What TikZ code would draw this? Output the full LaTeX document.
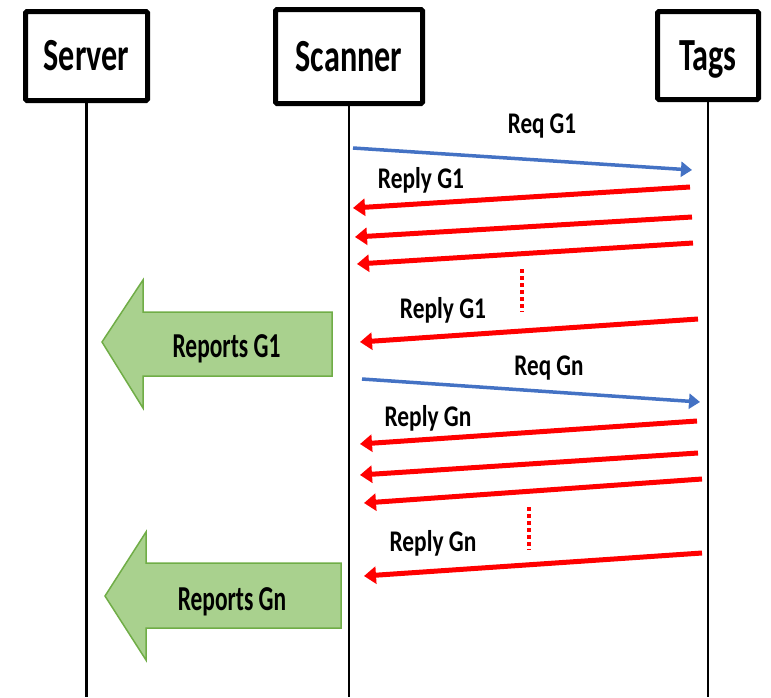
\documentclass[tikz,border=0pt]{standalone}
\usepackage{fontspec}
\setmainfont{Carlito}
\usepackage{graphicx}
\usetikzlibrary{arrows.meta}
\definecolor{reqblue}{HTML}{4472C4}
\definecolor{replyred}{HTML}{FF0000}
\definecolor{blockfill}{HTML}{A9D18E}
\definecolor{blockedge}{HTML}{70AD47}
% condensed lettering
\newcommand\narrowtext[2][0.7]{\scalebox{#1}[1]{#2}}

\begin{document}
\begin{tikzpicture}[x=1pt,y=-1pt,
  actor/.style={draw, line width=5pt, rounded corners=1.5pt, inner sep=0pt,
    text height=29pt, text depth=0pt, font=\fontsize{46}{46}\selectfont\bfseries},
  lifeline/.style={line width=2.5pt},
  req/.style={draw=reqblue, line width=3.5pt, -{Triangle[length=11pt,width=15pt]}},
  reply/.style={draw=replyred, line width=5pt, -{Triangle[length=12pt,width=17pt]}},
  gap/.style={draw=replyred, line width=3.5pt, dash pattern=on 3.5pt off 3.5pt},
  msg/.style={font=\fontsize{30}{30}\selectfont\bfseries, anchor=base, inner sep=0pt},
  block/.style={fill=blockfill, draw=blockedge, line width=1.5pt, line join=miter},
  blocklabel/.style={font=\fontsize{35}{35}\selectfont\bfseries, anchor=base, inner sep=0pt}
]
\useasboundingbox (0,0) rectangle (771,697);

% participants
\node[actor, minimum width=122pt, minimum height=89pt] (server)  at (86.5,56)  {\narrowtext{Server}};
\node[actor, minimum width=147pt, minimum height=94pt] (scanner) at (349,56.5) {\narrowtext{Scanner}};
\node[actor, minimum width=101pt, minimum height=88pt] (tags)    at (708,55.5) {\narrowtext{Tags}};

% lifelines
\coordinate (serverEnd)  at (86.5,697);
\coordinate (scannerEnd) at (349,697);
\coordinate (tagsEnd)    at (708,697);
\draw[lifeline] (server.south)  -- (serverEnd);
\draw[lifeline] (scanner.south) -- (scannerEnd);
\draw[lifeline] (tags.south)    -- (tagsEnd);

% group G1
\coordinate (rq1a) at (353,148); \coordinate (rq1b) at (692,170);
\draw[req] (rq1a) -- (rq1b);
\node[msg] (lreq1) at (542,133) {\narrowtext[0.77]{Req G1}};

\coordinate (r1a) at (690,187); \coordinate (r1b) at (353,208);
\coordinate (r2a) at (692,217); \coordinate (r2b) at (355,237);
\coordinate (r3a) at (693,243); \coordinate (r3b) at (357,264);
\coordinate (r4a) at (698,319); \coordinate (r4b) at (360,342);
\draw[reply] (r1a) -- (r1b);
\draw[reply] (r2a) -- (r2b);
\draw[reply] (r3a) -- (r3b);
\draw[reply] (r4a) -- (r4b);
\node[msg] (lrep1) at (421,188) {\narrowtext[0.78]{Reply G1}};
\node[msg] (lrep1b) at (443,318) {\narrowtext[0.78]{Reply G1}};
\coordinate (d1a) at (522,269); \coordinate (d1b) at (522,312);
\draw[gap] (d1a) -- (d1b);

% report G1
\draw[block] (102,342) -- (143,280) -- (143,312) -- (332,312) -- (332,376)
  -- (143,376) -- (143,408) -- cycle;
\node[blocklabel] (rep1) at (226.5,357) {\narrowtext[0.67]{Reports G1}};

% group Gn
\coordinate (rqna) at (362,379); \coordinate (rqnb) at (700,402);
\draw[req] (rqna) -- (rqnb);
\node[msg] (lreqn) at (549,375) {\narrowtext[0.77]{Req Gn}};

\coordinate (n1a) at (697,421); \coordinate (n1b) at (360,444);
\coordinate (n2a) at (698,453); \coordinate (n2b) at (360,475);
\coordinate (n3a) at (702,479); \coordinate (n3b) at (364,503);
\coordinate (n4a) at (702,553); \coordinate (n4b) at (364,576);
\draw[reply] (n1a) -- (n1b);
\draw[reply] (n2a) -- (n2b);
\draw[reply] (n3a) -- (n3b);
\draw[reply] (n4a) -- (n4b);
\node[msg] (lrepn) at (428,426) {\narrowtext[0.78]{Reply Gn}};
\node[msg] (lrepnb) at (433,551) {\narrowtext[0.78]{Reply Gn}};
\coordinate (d2a) at (529,507); \coordinate (d2b) at (529,550);
\draw[gap] (d2a) -- (d2b);

% report Gn
\draw[block] (105,596) -- (146,532) -- (146,563) -- (341,563) -- (341,628)
  -- (146,628) -- (146,660) -- cycle;
\node[blocklabel] (repn) at (232,610) {\narrowtext[0.67]{Reports Gn}};
\end{tikzpicture}
\end{document}
